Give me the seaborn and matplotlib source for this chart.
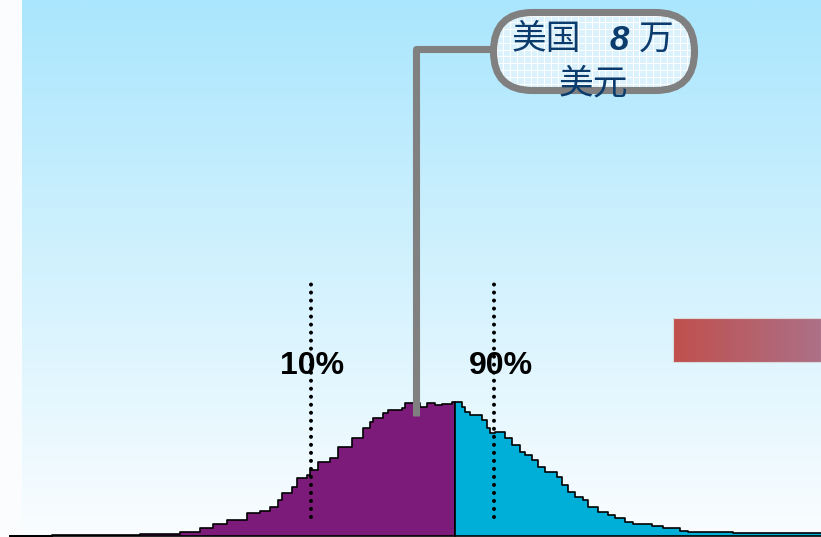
import numpy as np
import matplotlib
matplotlib.use("Agg")
import matplotlib.pyplot as plt
import seaborn as sns
from matplotlib.patches import FancyBboxPatch, Rectangle
from matplotlib.colors import to_rgb

sns.set_style("white")
plt.rcParams["font.family"] = ["Noto Sans CJK SC", "DejaVu Sans"]

# Income distribution (horizontal unit = screen column, heights = household counts)
left_edges = [10, 52, 70, 75, 140, 180, 200, 213, 227, 247, 260, 270, 278, 282, 292,
              297, 307, 310, 318, 330, 338, 352, 363, 370, 373, 383, 388, 402, 405,
              420, 427, 435, 442, 452, 455]
left_counts = [0.5, 1.5, 1, 1.5, 2, 4, 8, 12, 16, 23, 25, 29, 36, 43, 49, 58, 61, 66,
               74, 78, 89, 98, 108, 114, 118, 123, 126, 128, 133, 129, 133, 131, 132, 134]
right_edges = [455, 462, 465, 470, 482, 487, 490, 495, 505, 512, 520, 525, 532, 538,
               545, 557, 562, 568, 575, 583, 588, 598, 608, 615, 625, 633, 652, 663,
               680, 688, 700, 733, 823]
right_counts = [134, 129, 124, 121, 116, 108, 103, 104, 98, 91, 84, 81, 76, 69, 64,
                59, 51, 44, 39, 36, 29, 24, 21, 18, 14, 12, 10, 8, 5, 4, 4, 3]

pct_labels = ["10%", "90%"]
pct_lines = [311, 494]
pct_text_x = [312, 501]

callout_parts = ["美国", "8", "万"]
callout_line2 = "美元"

W, H = 821, 537
fig = plt.figure(figsize=(W / 100, H / 100), dpi=100, facecolor="#fbfcfe")
ax = fig.add_axes([0, 0, 1, 1])
ax.set_xlim(0, W)
ax.set_ylim(-1, H - 1)
ax.axis("off")


def py(y):
    """Convert a top-down row to the axis' vertical coordinate."""
    return (H - 1) - y


# Sky gradient backdrop
top = np.array(to_rgb("#aae6fd"))
bot = np.array(to_rgb("#fafdff"))
t = np.linspace(0, 1, 256)[:, None, None]
grad = top * (1 - t) + bot * t
ax.imshow(grad, extent=[22, W, -1, H - 1], aspect="auto", origin="upper", zorder=0)

# Distribution halves
lc = [(a + b) / 2 for a, b in zip(left_edges[:-1], left_edges[1:])]
rc = [(a + b) / 2 for a, b in zip(right_edges[:-1], right_edges[1:])]
sns.histplot(x=lc, weights=left_counts, bins=left_edges, element="step", fill=True,
             color="#7d1b7a", alpha=1, edgecolor="black", linewidth=1.2, ax=ax, zorder=2)
sns.histplot(x=rc, weights=right_counts, bins=right_edges, element="step", fill=True,
             color="#00afd8", alpha=1, edgecolor="black", linewidth=1.2, ax=ax, zorder=2)
ax.set_xlim(0, W)
ax.set_ylim(-1, H - 1)
ax.axis("off")

# Percentile markers
for xv, lab, tx in zip(pct_lines, pct_labels, pct_text_x):
    ax.plot([xv, xv], [py(517), py(284)], color="black", lw=2.9,
            linestyle=(0, (0.01, 1.98)), dash_capstyle="round", zorder=4)
    ax.text(tx, py(366), lab, ha="center", va="center", fontsize=23,
            fontweight="bold", family=["Liberation Sans", "DejaVu Sans"],
            color="black", zorder=6)

# Red gradient bar on the right
c0 = np.array(to_rgb("#c0504d"))
c1 = np.array(to_rgb("#ac7087"))
s = np.linspace(0, 1, 256)[None, :, None]
bar = c0 * (1 - s) + c1 * s
ax.imshow(bar, extent=[673, W, py(362), py(318)], aspect="auto", zorder=3)
ax.add_patch(Rectangle((673, py(362)), W - 673, 44, fill=False, ec="#d9d9d9",
                       lw=0.8, zorder=3))

# Leader line to the callout
ax.plot([416, 416, 495], [py(416), py(48.5), py(48.5)], color="#808080", lw=5.1,
        solid_joinstyle="round", solid_capstyle="butt", zorder=5)

# Callout bubble with graph-paper fill
bx0, bx1, by0, by1 = 493.5, 694.5, 12.5, 90.5
bubble = FancyBboxPatch((bx0, py(by1)), bx1 - bx0, by1 - by0,
                        boxstyle="round,pad=0,rounding_size=39", mutation_aspect=1,
                        fc="#dbf2fc", ec="none", zorder=6)
ax.add_patch(bubble)
for gx in np.arange(bx0 + 3, bx1, 6.8):
    ln = ax.plot([gx, gx], [py(by1), py(by0)], color="white", lw=0.7, zorder=6.1)[0]
    ln.set_clip_path(bubble)
for gy in np.arange(by0 + 3, by1, 6.8):
    ln = ax.plot([bx0, bx1], [py(gy), py(gy)], color="white", lw=0.7, zorder=6.1)[0]
    ln.set_clip_path(bubble)
ax.add_patch(FancyBboxPatch((bx0, py(by1)), bx1 - bx0, by1 - by0,
                            boxstyle="round,pad=0,rounding_size=39", mutation_aspect=1,
                            fc="none", ec="#808080", lw=5.1, zorder=6.2))

navy = "#0c3c6e"
ax.text(546, py(39), callout_parts[0], ha="center", va="center", fontsize=25,
        color=navy, style="italic", fontweight="medium", zorder=7)
ax.text(619, py(40), callout_parts[1], ha="center", va="center", fontsize=25,
        color=navy, fontweight="bold", style="italic",
        family=["Liberation Sans", "DejaVu Sans"], zorder=7)
ax.text(656, py(39), callout_parts[2], ha="center", va="center", fontsize=25,
        color=navy, style="italic", fontweight="medium", zorder=7)
ax.text(593, py(84), callout_line2, ha="center", va="center", fontsize=25,
        color=navy, style="italic", fontweight="medium", zorder=7)

fig.savefig("out.png", dpi=100, facecolor=fig.get_facecolor())
